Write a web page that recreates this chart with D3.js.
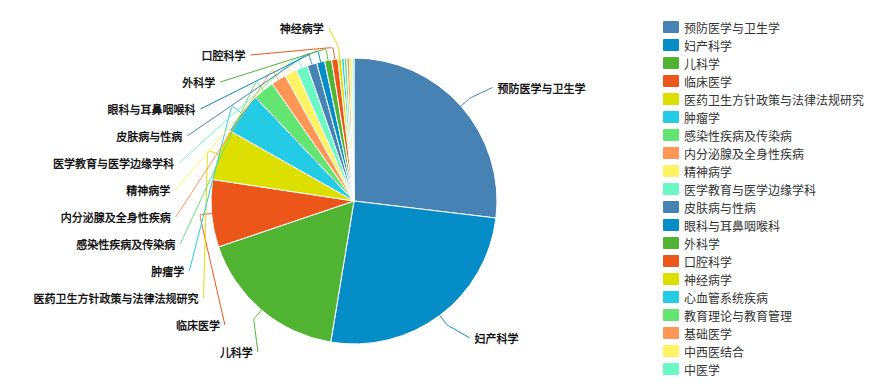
<!DOCTYPE html>
<html lang="zh">
<head>
<meta charset="UTF-8">
<script src="https://d3js.org/d3.v7.min.js"></script>
<title>学科分布</title>
<style>
  body { margin: 0; background: #fff; }
  svg text { font-family: "Noto Sans CJK SC", "Microsoft YaHei", sans-serif; font-size: 12px; }
  .legend text { fill: #333; }
  .label { fill: #000; font-size: 11px; stroke: #000; stroke-width: 0.3; }
  .slice path { stroke: #fff; stroke-width: 1; }
</style>
</head>
<body>
<svg id="chart" width="880" height="389"></svg>
<script>
// categories in drawing order (clockwise from 12 o'clock)
var categories = ["预防医学与卫生学", "妇产科学", "儿科学", "临床医学", "医药卫生方针政策与法律法规研究",
  "肿瘤学", "感染性疾病及传染病", "内分泌腺及全身性疾病", "精神病学", "医学教育与医学边缘学科",
  "皮肤病与性病", "眼科与耳鼻咽喉科", "外科学", "口腔科学", "神经病学",
  "心血管系统疾病", "教育理论与教育管理", "基础医学", "中西医结合", "中医学"];
var values = [269, 257, 172, 76, 58, 47, 24, 17, 14, 13, 11, 9, 8, 7, 4, 3, 3, 3, 3, 2];
var palette = ["#4682B4", "#058DC7", "#50B432", "#ED561B", "#DDDF00",
  "#24CBE5", "#64E572", "#FF9655", "#FFF263", "#6AF9C4"];

var width = 880, height = 389,
    cx = 354, cy = 201, radius = 143;

var lineLen = 12,        // first leg of label line
    labelOffset = 28,    // where labels want to sit
    len2 = 8,
    curveR = 179,        // labels are aligned on this circle
    labelH = 27,
    minLabelAngle = 1.3 * Math.PI / 180;

var svg = d3.select("#chart");
var color = d3.scaleOrdinal().domain(categories).range(palette);

var data = categories.map(function (c, i) { return { name: c, value: values[i] }; });

var pie = d3.pie().sort(null).value(function (d) { return d.value; });
var arc = d3.arc().innerRadius(0).outerRadius(radius);
var arcs = pie(data);

// slices
svg.append("g")
    .attr("class", "slice")
    .attr("transform", "translate(" + cx + "," + cy + ")")
    .selectAll("path")
    .data(arcs)
    .enter()
    .append("path")
    .attr("d", arc)
    .attr("fill", function (d) { return color(d.data.name); });

// label layout
function pt(a, r) { return [cx + r * Math.sin(a), cy - r * Math.cos(a)]; }

var labelled = arcs.filter(function (d) { return d.endAngle - d.startAngle >= minLabelAngle; });
labelled.forEach(function (d) {
    var a = (d.startAngle + d.endAngle) / 2;
    d.side = Math.sin(a) >= 0 ? 1 : -1;
    d.p0 = pt(a, radius);
    d.p1 = pt(a, radius + lineLen);
    var p = pt(a, radius + labelOffset);
    d.ly = p[1];
    d.naturalX = p[0] + d.side * len2;
});

[-1, 1].forEach(function (side) {
    var list = labelled.filter(function (d) { return d.side === side; })
        .sort(function (a, b) { return a.ly - b.ly; });
    var n = list.length, i;
    for (i = 1; i < n; i++) list[i].ly = Math.max(list[i].ly, list[i - 1].ly + labelH);
    var maxY = cy + radius + 8;
    if (n && list[n - 1].ly > maxY) {
        list[n - 1].ly = maxY;
        for (i = n - 2; i >= 0; i--) list[i].ly = Math.min(list[i].ly, list[i + 1].ly - labelH);
    }
    list.forEach(function (d) {
        var dy = Math.abs(d.ly - cy);
        d.lx = dy < radius + 15 ? cx + side * Math.sqrt(curveR * curveR - dy * dy) : d.naturalX;
    });
});

var line = d3.line().curve(d3.curveBasis);

var lab = svg.append("g").selectAll("g")
    .data(labelled)
    .enter()
    .append("g");

lab.append("path")
    .attr("d", function (d) { return line([d.p0, d.p1, d.p1, [d.lx, d.ly]]); })
    .attr("fill", "none")
    .attr("stroke", function (d) { return color(d.data.name); })
    .attr("stroke-width", 1);

lab.append("text")
    .attr("class", "label")
    .attr("x", function (d) { return d.lx + d.side * 5; })
    .attr("y", function (d) { return d.ly; })
    .attr("dominant-baseline", "central")
    .attr("text-anchor", function (d) { return d.side > 0 ? "start" : "end"; })
    .text(function (d) { return d.data.name; });

// legend
var legend = svg.append("g")
    .attr("class", "legend")
    .attr("transform", "translate(663,21)");

var item = legend.selectAll("g")
    .data(categories)
    .enter()
    .append("g")
    .attr("transform", function (d, i) { return "translate(0," + i * 18 + ")"; });

item.append("rect")
    .attr("width", 16)
    .attr("height", 12)
    .attr("rx", 1)
    .attr("fill", function (d) { return color(d); });

item.append("text")
    .attr("x", 21)
    .attr("y", 6)
    .attr("dominant-baseline", "central")
    .text(function (d) { return d; });
</script>
</body>
</html>
